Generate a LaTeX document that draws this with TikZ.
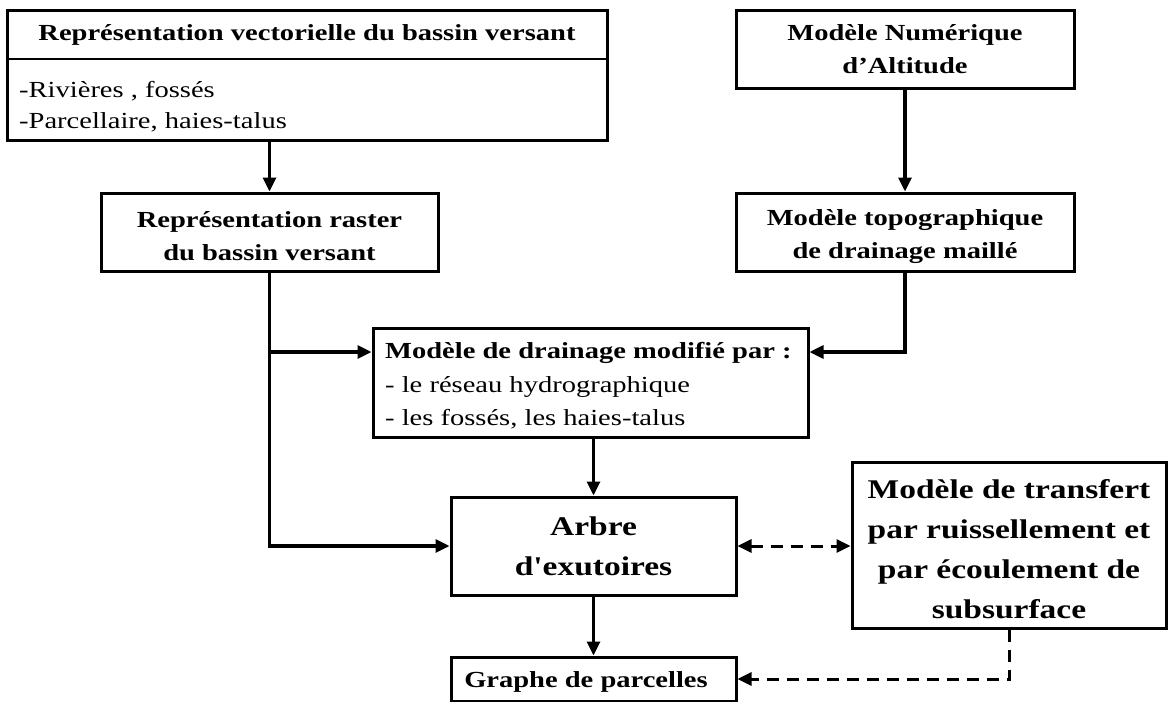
\documentclass[tikz,border=0pt]{standalone}
\usepackage{fontspec}
\newfontfamily\tnr{Liberation Serif}[FakeStretch=1.24]
\usetikzlibrary{arrows.meta}
\tikzset{
  box/.style={draw, line width=3pt, rectangle, inner sep=0pt},
  txt/.style={inner sep=0pt, font=\tnr\fontsize{23}{33}\selectfont\bfseries, align=center},
  rtxt/.style={inner sep=0pt, font=\tnr\fontsize{23}{31}\selectfont, align=left},
  bigtxt/.style={inner sep=0pt, font=\tnr\fontsize{27}{40}\selectfont\bfseries, align=center},
  arr/.style={line width=3.2pt, -{Triangle[length=14pt,width=13pt]}},
  darr/.style={line width=3pt, dash pattern=on 12pt off 8pt, -{Triangle[length=14pt,width=13pt]}},
  ddarr/.style={line width=3pt, dash pattern=on 12pt off 8pt, {Triangle[length=14pt,width=13pt]}-{Triangle[length=14pt,width=13pt]}}
}
\begin{document}
\begin{tikzpicture}[x=1pt,y=-1pt]
\useasboundingbox[fill=white] (0,0) rectangle (1171,702);
% boxes
\node[box, minimum width=600pt, minimum height=130pt] (vec) at (307,75) {};
\draw[line width=1.6pt] (vec.west |- 0,59) -- (vec.east |- 0,59);
\node[txt, anchor=base] (vect) at (307,40) {Représentation vectorielle du bassin versant};
\node[rtxt, anchor=base west] (vecl1) at (19,97) {-Rivières , fossés};
\node[rtxt, anchor=base west] (vecl2) at (19,128) {-Parcellaire, haies-talus};

\node[box, minimum width=337pt, minimum height=78pt] (raster) at (269.5,232) {};
\node[txt, anchor=base] (rastert) at (269.5,260) {Représentation raster\\du bassin versant};

\node[box, minimum width=338pt, minimum height=78pt] (mnt) at (905,49) {};
\node[txt, anchor=base] (mntt) at (905,73) {Modèle Numérique\\d’Altitude};

\node[box, minimum width=338pt, minimum height=78pt] (topo) at (905,232) {};
\node[txt, anchor=base] (topot) at (905,258) {Modèle topographique\\de drainage maillé};

\node[box, minimum width=435pt, minimum height=109pt] (modif) at (590.5,382.5) {};
\node[txt, anchor=base west] (modift) at (385,358) {Modèle de drainage modifié par :};
\node[rtxt, anchor=base west] (modifl1) at (385,392) {- le réseau hydrographique};
\node[rtxt, anchor=base west] (modifl2) at (385,425) {- les fossés, les haies-talus};

\node[box, minimum width=285pt, minimum height=98pt] (arbre) at (593.5,546) {};
\node[bigtxt, anchor=base] (arbret) at (593.5,575) {Arbre\\d'exutoires};

\node[box, minimum width=314pt, minimum height=166pt] (trans) at (1009,545) {};
\node[bigtxt, anchor=base] (transt) at (1009,618) {Modèle de transfert\\par ruissellement et\\par écoulement de\\subsurface};

\node[box, minimum width=285pt, minimum height=44pt] (graphe) at (593.5,679) {};
\node[txt, anchor=base] (graphet) at (586,687) {Graphe de parcelles};

\coordinate (j1) at (0,352);
% connectors
\draw[arr] (vec.south -| raster.north) -- (raster.north);
\draw[arr] (mnt.south) -- (topo.north);
\draw[arr] (raster.south) |- (arbre.west);
\draw[arr] (raster.south |- j1) -- (modif.west |- j1);
\draw[arr] (topo.south) |- (modif.east |- j1);
\draw[arr] (arbre.north |- modif.south) -- (arbre.north);
\draw[arr] (arbre.south) -- (graphe.north);
\draw[ddarr] (arbre.east) -- (trans.west |- arbre.east);
\draw[darr] (trans.south) |- (graphe.east);
\end{tikzpicture}
\end{document}
